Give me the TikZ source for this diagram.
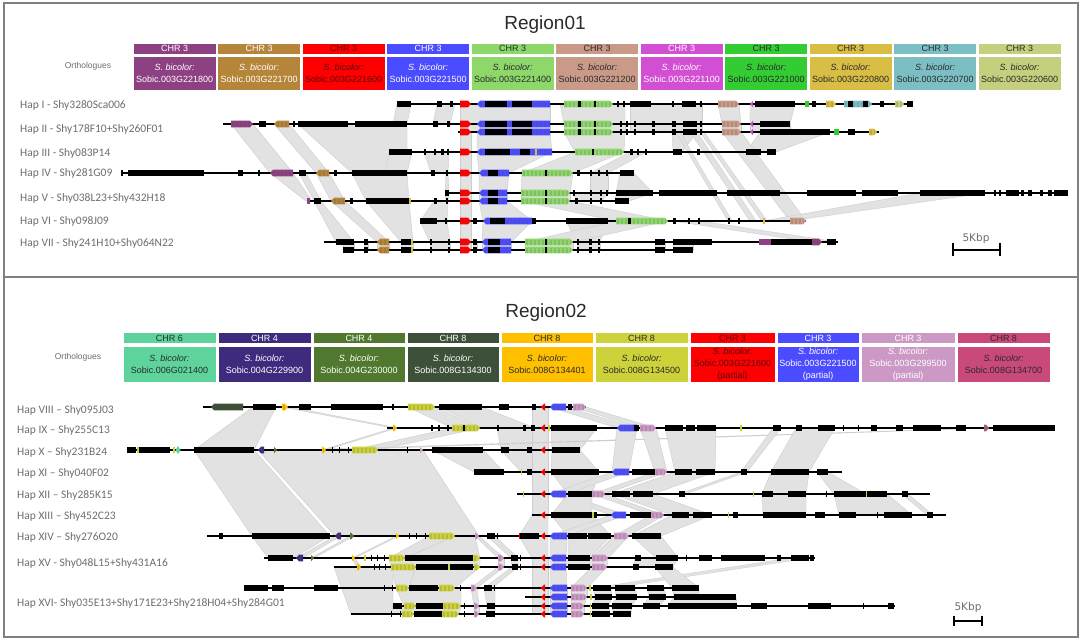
\documentclass[tikz,border=0pt]{standalone}
\usepackage{fontspec}
\setmainfont{Liberation Sans}
\newfontfamily\hapfont{Carlito}
\newfontfamily\dvfont{DejaVu Sans}
% region 01 colours
\definecolor{c1a}{HTML}{8E4182}
\definecolor{c1b}{HTML}{B5853A}
\definecolor{c1c}{HTML}{FF0000}
\definecolor{c1d}{HTML}{4B4BFF}
\definecolor{c1e}{HTML}{8ED86B}
\definecolor{c1f}{HTML}{C99A88}
\definecolor{c1g}{HTML}{D24ED2}
\definecolor{c1h}{HTML}{33CC33}
\definecolor{c1i}{HTML}{D8BE45}
\definecolor{c1j}{HTML}{7BBFC5}
\definecolor{c1k}{HTML}{C6CF7D}
% region 02 colours
\definecolor{c2a}{HTML}{5ED49C}
\definecolor{c2b}{HTML}{3E2B7D}
\definecolor{c2c}{HTML}{50792F}
\definecolor{c2d}{HTML}{3D5038}
\definecolor{c2e}{HTML}{FFC000}
\definecolor{c2f}{HTML}{CDD23B}
\definecolor{c2g}{HTML}{FF0000}
\definecolor{c2h}{HTML}{4B4BFF}
\definecolor{c2i}{HTML}{CC99C6}
\definecolor{c2j}{HTML}{C9497B}
\definecolor{dk}{HTML}{2A2A2A}
\definecolor{rtx}{HTML}{5A0A0A}
\definecolor{hapgray}{HTML}{6E6E6E}
\definecolor{framegray}{HTML}{808080}
\definecolor{ribfill}{HTML}{E2E2E2}
\definecolor{ribline}{HTML}{CDCDCD}
\tikzset{
  hap/.style={anchor=west, font=\hapfont\fontsize{11.5}{13}\selectfont, text=hapgray, inner sep=0pt},
  hchr/.style={font=\fontsize{9}{10}\selectfont, minimum height=11pt, inner sep=0pt, draw=white, line width=.6pt},
  hbody/.style={font=\fontsize{9}{12}\selectfont, align=center, inner sep=0pt, draw=white, line width=.6pt},
  ortho/.style={font=\fontsize{8.5}{10}\selectfont, text=hapgray},
  ttl/.style={font=\fontsize{19}{22}\selectfont, text=dk, anchor=base},
  sbar/.style={line width=1.7pt, black},
  sbtext/.style={font=\dvfont\fontsize{10.5}{12}\selectfont, text=hapgray},
  frm/.style={draw=framegray, line width=1.3pt},
  trk/.style={line width=1.1pt, black},
  ribbon/.style={fill=ribfill, draw=ribline, line width=.4pt}
}
\newcommand\tk[3]{\draw[trk] (#2,#1) -- (#3,#1);}
\newcommand\bks[2]{\foreach \a/\b in {#2} {\fill[black] (\a,#1-2.6) rectangle (\b,#1+2.6);}}
\newcommand\gtex[3]{\draw[gray!60!black, opacity=.18, line width=5pt, dash pattern=on 1.5pt off 2.5pt] (#2+1,#1) -- (#3-2,#1);}
\newcommand\gr[4]{\fill[#4] (#2,#1-3.3) -- (#3-3,#1-3.3) -- (#3,#1) -- (#3-3,#1+3.3) -- (#2,#1+3.3) -- cycle;\gtex{#1}{#2}{#3}}
\newcommand\gl[4]{\fill[#4] (#3,#1-3.3) -- (#2+3,#1-3.3) -- (#2,#1) -- (#2+3,#1+3.3) -- (#3,#1+3.3) -- cycle;\gtex{#1}{#2+2}{#3+1}}
\newcommand\ck[4]{\fill[#4] (#2,#1-3.3) rectangle (#3,#1+3.3);}
\newcommand\rbs[3]{\foreach \p/\q/\r/\s in {#3} {\filldraw[ribbon] (\p,#1) -- (\q,#1) -- (\s,#2) -- (\r,#2) -- cycle;}}
\begin{document}
\begin{tikzpicture}[x=1pt,y=-1pt]
\useasboundingbox (0,0) rectangle (1084,641);
\fill[white] (0,0) rectangle (1084,641);
% frame
\draw[frm] (4,3) rectangle (1078,637);
\draw[frm] (4,277) -- (1078,277);
% titles
\node[ttl] (t1) at (545,29) {Region01};
\node[ttl] (t2) at (546,317) {Region02};
\node[ortho] (o1) at (88,66) {Orthologues};
\node[ortho] (o2) at (78,357) {Orthologues};
% ---------------- region 01 headers
\foreach \i/\c/\t/\g in {0/c1a/white/221800, 1/c1b/white/221700, 2/c1c/rtx/221600, 3/c1d/white/221500, 4/c1e/dk/221400, 5/c1f/dk/221200, 6/c1g/white/221100, 7/c1h/dk/221000, 8/c1i/dk/220800, 9/c1j/dk/220700, 10/c1k/dk/220600}{
  \pgfmathsetmacro\xc{133+84.5*\i+41.6}
  \node[hchr, fill=\c, text=\t, minimum width=83.2pt] (r1c\i) at (\xc,48.5) {CHR 3};
  \node[hbody, fill=\c, text=\t, minimum width=83.2pt, minimum height=34pt] (r1b\i) at (\xc,73) {\textit{S. bicolor:}\\Sobic.003G\g};
}
% ---------------- region 02 headers
\foreach \xa/\xb/\c/\t/\chr/\body [count=\k] in {123/216/c2a/dk/6/{Sobic.006G021400}, 218/311/c2b/white/4/{Sobic.004G229900}, 313/405/c2c/white/4/{Sobic.004G230000}, 407/499/c2d/white/8/{Sobic.008G134300}, 501/593/c2e/dk/8/{Sobic.008G134401}, 595/688/c2f/dk/8/{Sobic.008G134500}, 690/775/c2g/rtx/3/{Sobic.003G221600\\(partial)}, 777/859/c2h/white/3/{Sobic.003G221500\\(partial)}, 861/955/c2i/white/3/{Sobic.003G299500\\(partial)}, 957/1050/c2j/dk/8/{Sobic.008G134700}}{
  \pgfmathsetmacro\xc{(\xa+\xb)/2}
  \pgfmathsetmacro\w{\xb-\xa}
  \node[hchr, fill=\c, text=\t, minimum width=\w pt] (r2c\k) at (\xc,338) {CHR \chr};
  \node[hbody, fill=\c, text=\t, minimum width=\w pt, minimum height=36pt] (r2b\k) at (\xc,364) {\textit{S. bicolor:}\\\body};
}
% ---------------- hap labels
\node[hap] (l1) at (20,105) {Hap I - Shy3280Sca006};
\node[hap] (l2) at (20,129) {Hap II - Shy178F10+Shy260F01};
\node[hap] (l3) at (20,153) {Hap III - Shy083P14};
\node[hap] (l4) at (20,173) {Hap IV - Shy281G09};
\node[hap] (l5) at (20,198) {Hap V - Shy038L23+Shy432H18};
\node[hap] (l6) at (20,221) {Hap VI - Shy098J09};
\node[hap] (l7) at (20,243) {Hap VII - Shy241H10+Shy064N22};
\node[hap] (l8) at (17,410) {Hap VIII – Shy095J03};
\node[hap] (l9) at (17,430) {Hap IX – Shy255C13};
\node[hap] (l10) at (17,452) {Hap X – Shy231B24};
\node[hap] (l11) at (17,473) {Hap XI – Shy040F02};
\node[hap] (l12) at (17,495) {Hap XII – Shy285K15};
\node[hap] (l13) at (17,516) {Hap XIII – Shy452C23};
\node[hap] (l14) at (17,537) {Hap XIV – Shy276O20};
\node[hap] (l15) at (17,563) {Hap XV - Shy048L15+Shy431A16};
\node[hap] (l16) at (17,603) {Hap XVI- Shy035E13+Shy171E23+Shy218H04+Shy284G01};
% ---------------- region 01 ribbons
\rbs{104}{124}{397/411/393/407, 437/455/433/450, 460/550/460/550, 560/625/564/625, 630/702/630/702, 718/739/722/741, 750/795/750/790}
\rbs{124}{132}{460/550/460/550, 564/625/564/625, 630/702/630/702, 722/741/722/741, 750/790/750/790}
\rbs{132}{152}{460/471/460/471, 477/550/477/552, 564/625/575/624, 672/697/673/682, 760/830/746/776}
\rbs{124}{173}{231/253/270/293, 274/289/316/329, 298/407/352/407}
\rbs{132}{221}{676/680/728/732, 690/697/750/756, 700/704/762/767, 722/741/790/806}
\rbs{152}{173}{389/412/385/407, 424/449/431/448, 460/471/460/471, 477/552/479/509, 575/624/522/573, 630/647/590/608}
\rbs{173}{193}{446/448/445/449, 460/471/460/471, 479/509/479/507, 522/573/521/570, 590/608/590/608, 620/634/616/653}
\rbs{173}{201}{270/293/306/312, 299/306/314/321, 316/329/331/345, 352/407/366/409}
\rbs{193}{201}{445/449/446/448, 460/471/460/471, 479/507/479/507, 521/570/521/570, 575/608/575/602, 616/653/615/629}
\rbs{193}{221}{920/985/763/790}
\rbs{201}{221}{434/448/420/447, 460/471/460/471, 479/507/483/532, 521/570/616/668}
\rbs{201}{242}{314/321/336/354, 331/345/377/389, 366/409/401/413}
\rbs{221}{242}{420/447/430/450, 460/471/460/471, 483/532/482/511, 566/608/577/600, 616/668/525/573, 673/700/812/838}
\rbs{242}{250}{343/354/343/354, 364/368/364/368, 377/389/377/389, 401/413/401/413, 430/450/430/450, 460/471/460/471, 473/477/473/477, 482/511/482/511, 525/573/525/573, 577/600/577/600, 655/665/655/665, 673/693/673/693}
% ---------------- region 02 ribbons
\rbs{407}{428}{282/290/393/398, 408/435/452/480, 439/482/482/535, 532/548/532/548, 550/566/617/637, 573/586/640/656}
\rbs{407}{450}{253/276/194/254}
\rbs{428}{450}{393/397/322/326, 452/480/352/378, 497/535/501/532, 532/548/532/548, 551/597/552/580, 984/993/300/330}
\rbs{428}{472}{617/637/612/629, 640/656/655/667, 665/716/675/715, 773/781/741/747, 796/835/771/809}
\rbs{450}{472}{432/483/474/504, 501/532/521/532, 532/548/532/548, 552/580/551/599}
\rbs{450}{536}{194/254/252/330, 258/423/335/479}
\rbs{472}{494}{532/548/532/548, 551/599/568/592, 612/629/550/566, 655/667/592/605, 675/715/612/653, 741/747/679/685, 771/809/762/806, 817/828/834/866}
\rbs{494}{515}{532/548/532/548, 550/566/611/626, 568/592/551/592, 592/605/651/664, 612/653/672/712, 762/806/763/806, 834/887/839/912, 902/908/927/933}
\rbs{515}{536}{532/548/519/548, 551/592/568/611, 611/626/550/567, 651/664/614/629, 672/712/632/661}
\rbs{536}{558}{252/330/268/293, 335/341/296/303, 350/354/311/314, 396/399/352/355, 429/455/389/405, 455/475/405/480, 475/479/498/504, 487/495/511/518, 519/548/532/548, 550/567/550/566, 568/611/568/590, 614/629/592/608, 632/661/656/678}
\rbs{558}{567}{352/355/357/361, 389/480/391/480, 498/504/498/504, 511/518/512/518, 532/548/532/548, 550/608/550/607, 635/678/633/673}
\rbs{558}{588}{791/809/593/611}
\rbs{567}{588}{391/416/396/409, 416/480/409/455, 498/504/471/477, 512/518/484/492, 532/548/532/548, 550/566/550/567, 592/607/571/587, 655/673/672/699}
\rbs{567}{614}{334/393/351/393}
\rbs{588}{597}{532/548/532/548, 550/567/550/567, 571/587/571/587, 593/611/595/612, 615/635/616/637, 647/664/649/666, 672/699/674/699}
\rbs{588}{606}{396/461/404/461, 471/477/474/479, 484/495/487/495}
\rbs{597}{606}{532/548/532/548, 550/567/550/567, 571/587/571/584, 595/612/592/609, 616/637/612/632, 649/666/643/660, 674/736/668/737}
\rbs{606}{614}{393/461/391/459, 474/479/474/479, 487/495/486/495, 532/548/532/548, 550/567/550/567, 571/584/571/584, 592/609/592/610, 612/632/613/631}
% ---------------- region 01 tracks
% Hap I
\tk{104}{397}{913}
\gr{104}{460}{471}{c1c}
\gl{104}{477}{550}{c1d}
\gr{104}{564}{613}{c1e}
\gr{104}{718}{739}{c1f}
\gl{104}{750}{753}{c1g}
\ck{104}{805}{809}{c1h}
\gr{104}{826}{836}{c1i}
\gr{104}{844}{872}{c1j}
\gr{104}{895}{904}{c1k}
\bks{104}{397/411, 437/442, 450/453, 485/507, 512/532, 578/581, 594/596, 617/619, 623/625, 630/651, 672/674, 682/696, 700/702, 755/795, 812/816, 848/853, 863/868, 880/884, 907/913}
% Hap II
\tk{124}{223}{790}
\gr{124}{231}{253}{c1a}
\gl{124}{274}{289}{c1b}
\gr{124}{460}{471}{c1c}
\gl{124}{477}{550}{c1d}
\gr{124}{564}{613}{c1e}
\gr{124}{722}{741}{c1f}
\gl{124}{750}{753}{c1g}
\bks{124}{259/266, 293/295, 298/348, 355/407, 433/438, 447/450, 485/507, 512/532, 578/581, 594/596, 620/622, 626/628, 634/636, 652/655, 672/676, 683/697, 700/702, 760/790}
\tk{132}{458}{879}
\gr{132}{460}{471}{c1c}
\gl{132}{477}{550}{c1d}
\gr{132}{564}{613}{c1e}
\gr{132}{722}{741}{c1f}
\gl{132}{750}{753}{c1g}
\ck{132}{834}{839}{c1h}
\gr{132}{869}{877}{c1i}
\bks{132}{485/507, 512/532, 578/581, 594/596, 620/622, 626/628, 634/636, 652/655, 672/676, 683/697, 700/702, 760/830, 848/855}
% Hap III
\tk{152}{389}{776}
\gr{152}{460}{471}{c1c}
\gl{152}{477}{552}{c1d}
\gr{152}{575}{624}{c1e}
\bks{152}{389/412, 424/426, 434/436, 441/444, 447/449, 485/510, 520/530, 592/594, 630/633, 637/639, 645/647, 673/682, 697/700, 746/761, 767/776}
\ck{152}{535}{537}{c1i}
% Hap IV
\tk{173}{121}{634}
\gl{173}{270}{293}{c1a}
\gl{173}{316}{329}{c1b}
\gr{173}{460}{471}{c1c}
\gl{173}{479}{509}{c1d}
\gr{173}{522}{573}{c1e}
\bks{173}{121/123, 128/204, 238/243, 258/260, 299/306, 334/337, 352/407, 431/435, 446/448, 488/498, 545/547, 577/580, 590/592, 598/600, 606/608, 620/634}
% Hap V
\tk{193}{445}{1068}
\gr{193}{460}{471}{c1c}
\gl{193}{479}{507}{c1d}
\gr{193}{521}{570}{c1e}
\bks{193}{445/449, 488/498, 545/547, 573/575, 590/592, 600/602, 606/608, 616/653, 659/717, 727/780, 807/856, 862/898, 920/985, 994/996, 999/1001, 1006/1019, 1021/1024, 1028/1032, 1040/1043, 1048/1052, 1054/1068}
\tk{201}{307}{629}
\ck{201}{307}{309.5}{c1a}
\gl{201}{331}{345}{c1b}
\gr{201}{460}{471}{c1c}
\gl{201}{479}{507}{c1d}
\gr{201}{521}{570}{c1e}
\bks{201}{314/321, 350/353, 366/409, 434/437, 446/448, 488/498, 545/547, 575/578, 590/592, 600/602, 615/629}
\ck{201}{409}{411}{c1i}
% Hap VI
\tk{221}{420}{806}
\gr{221}{460}{471}{c1c}
\gl{221}{483}{532}{c1d}
\gr{221}{616}{668}{c1e}
\gr{221}{790}{806}{c1f}
\bks{221}{420/437, 445/447, 473/477, 490/505, 532/536, 566/608, 628/631, 673/676, 688/690, 698/700, 728/730, 738/740}
\ck{221}{763}{765}{c1i}
% Hap VII
\tk{242}{324}{838}
\gl{242}{377}{389}{c1b}
\gr{242}{460}{471}{c1c}
\gl{242}{482}{511}{c1d}
\gr{242}{525}{573}{c1e}
\ck{242}{759}{771}{c1a}
\gr{242}{812}{822}{c1a}
\bks{242}{336/354, 364/368, 401/411, 430/432, 448/450, 473/477, 488/500, 545/547, 577/579, 589/592, 598/600, 655/665, 673/712, 771/812, 827/836}
\ck{242}{411}{413}{c1i}
\tk{250}{343}{693}
\gl{250}{377}{389}{c1b}
\gr{250}{460}{471}{c1c}
\gl{250}{482}{511}{c1d}
\gr{250}{525}{573}{c1e}
\bks{250}{343/354, 364/368, 401/411, 430/432, 448/450, 473/477, 488/500, 545/547, 577/579, 589/592, 598/600, 655/665, 673/693}
\ck{250}{411}{413}{c1i}
% ---------------- region 02 tracks
% VIII
\tk{407}{203}{586}
\gl{407}{211}{243}{c2d}
\gr{407}{282}{288}{c2e}
\gr{407}{408}{435}{c2f}
\gl{407}{541}{545}{c2g}
\gl{407}{550}{566}{c2h}
\gr{407}{573}{586}{c2i}
\bks{407}{253/276, 299/311, 331/383, 392/394, 439/482, 499/509, 532/536, 568/572}
% IX
\tk{428}{387}{1055}
\gr{428}{393}{397}{c2e}
\gr{428}{452}{480}{c2f}
\gl{428}{541}{545}{c2g}
\ck{428}{548}{549.5}{c2f}
\gl{428}{617}{637}{c2h}
\gr{428}{640}{656}{c2i}
\ck{428}{740}{741.5}{c2f}
\gr{428}{984}{989}{c2j!50!gray}
\bks{428}{431/433, 438/440, 447/449, 463/465, 497/499, 523/526, 531/535, 551/597, 634/639, 665/683, 686/695, 697/716, 773/781, 796/802, 818/835, 843/844, 858/859, 871/877, 896/903, 913/941, 956/966, 993/1055}
% X
\tk{450}{127}{580}
\fill[c2a] (178,446) -- (180.5,450) -- (178,454) -- (175.5,450) -- cycle;
\gl{450}{258}{264}{c2b}
\gr{450}{274}{277}{c2c}
\gr{450}{322}{326}{c2e}
\gr{450}{352}{378}{c2f}
\gr{450}{420}{423}{c2i}
\gl{450}{541}{545}{c2g}
\bks{450}{127/136, 138.5/170, 194/254, 332/333, 339/340, 348/349, 407/408, 432/483, 501/509, 527/532, 552/580}
\ck{450}{136.5}{138.5}{c2f}
\ck{450}{172.5}{174.5}{c2f}
% XI
\tk{472}{474}{842}
\ck{472}{520.5}{522}{c2f}
\gl{472}{541}{545}{c2g}
\gl{472}{612}{629}{c2h}
\gr{472}{655}{667}{c2i}
\bks{472}{474/504, 527/532, 551/599, 632/655, 675/692, 696/715, 741/747, 771/809, 817/828}
% XII
\tk{494}{517}{930}
\ck{494}{522.5}{524}{c2f}
\gl{494}{541}{545}{c2g}
\gl{494}{550}{566}{c2h}
\gr{494}{592}{605}{c2i}
\bks{494}{568/592, 612/630, 633/653, 679/685, 762/773, 788/806, 825.5/826.5, 834/865.5, 867/887, 902/908}
\ck{494}{752.5}{754}{c2f}
\ck{494}{865.5}{867}{c2f}
% XIII
\tk{515}{532}{946}
\gl{515}{541}{545}{c2g}
\gl{515}{611}{626}{c2h}
\gr{515}{651}{664}{c2i}
\bks{515}{551/592, 593.5/597, 630/651, 672/689, 693/712, 733/738, 763/806, 815/825, 839/856, 876.5/877.5, 884/912, 927/933}
\ck{515}{592}{593.5}{c2f}
\ck{515}{727.5}{729}{c2f}
% XIV
\tk{536}{207}{661}
\gl{536}{335}{341}{c2b}
\gr{536}{350}{354}{c2c}
\gr{536}{396}{399}{c2e}
\gr{536}{429}{455}{c2f}
\gr{536}{475}{479}{c2i}
\gl{536}{541}{545}{c2g}
\gl{536}{550}{567}{c2h}
\gr{536}{614}{629}{c2i}
\bks{536}{219/223, 252/330, 409/410, 416/417, 425/426, 487/495, 497/498, 520/539, 568/587, 588/611, 632/661}
\ck{536}{518.5}{520}{c2g}
% XV
\tk{558}{264}{815}
\gl{558}{296}{303}{c2b}
\gr{558}{311}{314}{c2c}
\gr{558}{352}{355}{c2e}
\gr{558}{389}{405}{c2f}
\gr{558}{473}{480}{c2f}
\gr{558}{498}{504}{c2i}
\gl{558}{541}{545}{c2g}
\gl{558}{550}{566}{c2h}
\gr{558}{592}{608}{c2i}
\bks{558}{268/293, 371/372, 377/378, 384/385, 405/473, 511/518, 520/521, 568/590, 635/641, 656/678, 686/687, 699/712, 721/765, 777/781, 791/809, 810/814}
\ck{558}{364}{365.5}{c2f}
\tk{567}{334}{673}
\gr{567}{357}{361}{c2e}
\gr{567}{391}{416}{c2f}
\gr{567}{474}{480}{c2f}
\gr{567}{498}{504}{c2i}
\gl{567}{541}{545}{c2g}
\gl{567}{550}{566}{c2h}
\gr{567}{592}{607}{c2i}
\bks{567}{374/375, 379/380, 385/386, 416/448, 450/473, 512/518, 520/521, 568/590, 633/639, 655/673}
\ck{567}{448}{449.5}{c2f}
% XVI
\tk{588}{244}{699}
\gr{588}{396}{409}{c2f}
\gr{588}{439}{455}{c2f}
\gr{588}{471}{477}{c2i}
\gl{588}{541}{545}{c2g}
\gl{588}{550}{567}{c2h}
\gr{588}{571}{587}{c2i}
\bks{588}{244/268, 272/284, 314/338, 384/385, 392/393, 409/438, 460/461, 484/492, 494/495, 593/611, 615/635, 647/664, 672/699}
\ck{588}{589}{590.5}{c2f}
\tk{597}{525}{736}
\gl{597}{541}{545}{c2g}
\gl{597}{550}{567}{c2h}
\gr{597}{571}{587}{c2i}
\bks{597}{595/612, 616/637, 649/666, 674/736}
\ck{597}{590}{591.5}{c2f}
\tk{606}{393}{895}
\gr{606}{404}{416}{c2f}
\gr{606}{443}{461}{c2f}
\gr{606}{474}{479}{c2i}
\gl{606}{541}{545}{c2g}
\gl{606}{550}{567}{c2h}
\gr{606}{571}{584}{c2i}
\bks{606}{393/402, 416/443, 464/465, 487/495, 592/609, 612/632, 643/660, 668/737, 751/767, 808/831, 863/864, 888/894}
\ck{606}{589.5}{591}{c2f}
\tk{614}{351}{631}
\gr{614}{402}{414}{c2f}
\gr{614}{442}{459}{c2f}
\gr{614}{474}{479}{c2i}
\gl{614}{541}{545}{c2g}
\gl{614}{550}{567}{c2h}
\gr{614}{571}{584}{c2i}
\bks{614}{391/392, 400/401, 414/442, 464/465, 486/495, 592/610, 613/631}
\ck{614}{589.5}{591}{c2f}
% ---------------- scale bars
\coordinate (s1a) at (953,250);
\coordinate (s1b) at (1000,250);
\draw[sbar] (s1a) -- (s1b);
\draw[sbar] (953,243) -- (953,256);
\draw[sbar] (1000,243) -- (1000,256);
\node[sbtext] (k1) at (976,239) {5Kbp};
\coordinate (s2a) at (954,621);
\coordinate (s2b) at (982,621);
\draw[sbar] (s2a) -- (s2b);
\draw[sbar] (954,615.5) -- (954,626);
\draw[sbar] (982,615.5) -- (982,626);
\node[sbtext] (k2) at (968,608) {5Kbp};
\end{tikzpicture}
\end{document}
